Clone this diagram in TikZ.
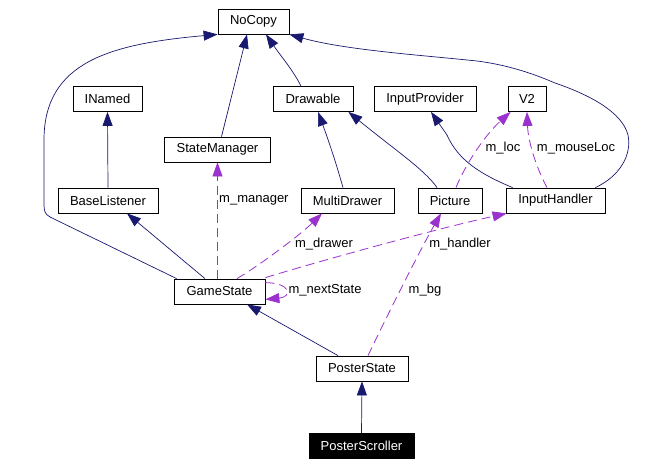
\documentclass[tikz,border=0pt]{standalone}
\usepackage{fontspec}
\setmainfont{Liberation Sans}
\usetikzlibrary{arrows.meta}
\definecolor{inhcol}{HTML}{191970}
\definecolor{usecol}{HTML}{9A32CD}
\begin{document}
\begin{tikzpicture}[x=1pt,y=-1pt,
  box/.style={draw=black,fill=white,line width=0.8pt,inner sep=0pt,minimum height=25pt,font=\fontsize{13}{15}\selectfont},
  inh/.style={draw=inhcol,line width=0.7pt,-{Triangle[length=14pt,width=10pt]},inhcol},
  use/.style={draw=usecol,line width=0.8pt,dash pattern=on 9pt off 5pt,-{Triangle[length=14pt,width=10pt]},usecol},
  lab/.style={font=\fontsize{13}{15}\selectfont,inner sep=0pt}]
\useasboundingbox[fill=white] (0,0) rectangle (658,466);
% nodes
\node[box,minimum width=71pt] (NoCopy) at (253.5,21.5) {NoCopy};
\node[box,minimum width=69pt] (INamed) at (107.5,99) {INamed};
\node[box,minimum width=80pt] (Drawable) at (313,99) {Drawable};
\node[box,minimum width=102pt] (InputProvider) at (425,99) {InputProvider};
\node[box,minimum width=38pt] (V2) at (527,99) {V2};
\node[box,minimum width=106pt] (StateManager) at (217.5,149.5) {StateManager};
\node[box,minimum width=100pt] (BaseListener) at (108,200.5) {BaseListener};
\node[box,minimum width=93pt] (MultiDrawer) at (347.5,200.5) {MultiDrawer};
\node[box,minimum width=64pt] (Picture) at (450,200.5) {Picture};
\node[box,minimum width=99pt] (InputHandler) at (555.5,200.5) {InputHandler};
\node[box,minimum width=91pt] (GameState) at (219.5,291.5) {GameState};
\node[box,minimum width=92pt] (PosterState) at (362,368.5) {PosterState};
\node[box,minimum width=105pt,fill=black,text=white] (PosterScroller) at (361.5,446) {PosterScroller};
% inheritance edges
\draw[inh] ([xshift=3pt]GameState.north west) -- (50,217) .. controls (44,214) and (44,210) .. (44,200) -- (44,140) .. controls (44,62) and (110,44) .. (NoCopy.south west);
\draw[inh] (BaseListener.north) -- (INamed.south);
\draw[inh] ([xshift=-14.5pt]GameState.north) -- ([xshift=19pt]BaseListener.south);
\draw[inh] ([xshift=4pt]StateManager.north) -- ([xshift=-6.5pt]NoCopy.south);
\draw[inh] ([xshift=-12pt]Drawable.north) .. controls (293,70) and (280,55) .. ([xshift=12.5pt]NoCopy.south);
\draw[inh] ([xshift=-10pt]InputHandler.north east) .. controls (620,176) and (632,155) .. (628,135) .. controls (622,112) and (590,95) .. (555,83) .. controls (525,70) and (500,64) .. (477,61) .. controls (420,55) and (345,50) .. (NoCopy.south east);
\draw[inh] ([xshift=-4.5pt]MultiDrawer.north) .. controls (338,170) and (332,150) .. ([xshift=5pt]Drawable.south);
\draw[inh] ([xshift=-13pt]Picture.north) .. controls (425,170) and (395,150) .. ([xshift=-5pt]Drawable.south east);
\draw[inh] ([xshift=7pt]InputHandler.north west) .. controls (480,174) and (458,160) .. (447,135) -- ([xshift=6pt]InputProvider.south);
\draw[inh] ([xshift=-24pt]PosterState.north) -- ([xshift=27.5pt]GameState.south);
\draw[inh] (PosterScroller.north) -- (PosterState.south);
% usage edges
\draw[use] ([xshift=-2pt]GameState.north) -- (StateManager.south);
\node[lab,anchor=west] (lmanager) at (219,200) {m\_manager};
\draw[use] ([xshift=17.5pt]GameState.north) .. controls (260,265) and (300,235) .. ([xshift=-25.5pt]MultiDrawer.south);
\node[lab] (ldrawer) at (324,244) {m\_drawer};
\draw[use] ([yshift=1pt]GameState.north east) .. controls (330,258) and (440,228) .. ([xshift=1pt]InputHandler.south west);
\node[lab] (lhandler) at (460,244) {m\_handler};
\draw[use] ([yshift=-4pt]GameState.north east) .. controls (292,283) and (292,297) .. ([yshift=5pt]GameState.south east);
\node[lab] (lnext) at (325,290) {m\_nextState};
\draw[use] ([xshift=6pt]PosterState.north) .. controls (385,320) and (420,250) .. ([xshift=-9pt]Picture.south);
\node[lab] (lbg) at (425,290) {m\_bg};
\draw[use] ([xshift=6pt]Picture.north) .. controls (465,165) and (485,135) .. ([xshift=3pt]V2.south west);
\node[lab] (lloc) at (503,148) {m\_loc};
\draw[use] ([xshift=-8.5pt]InputHandler.north) .. controls (535,165) and (528,140) .. (V2.south);
\node[lab] (lmouse) at (576,148) {m\_mouseLoc};
\end{tikzpicture}
\end{document}
